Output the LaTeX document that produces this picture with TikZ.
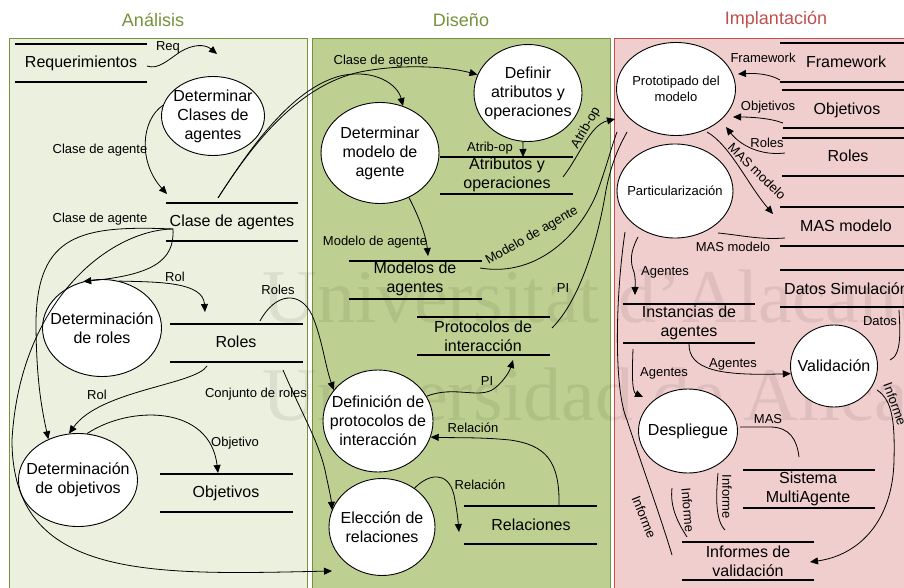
\documentclass[tikz,border=0pt]{standalone}
\usepackage{fontspec}
\setmainfont{Liberation Sans}
\newfontfamily\wmfont{Liberation Serif}
\usetikzlibrary{shapes.geometric,arrows.meta}

\definecolor{anaFill}{RGB}{235,241,222}
\definecolor{disFill}{RGB}{190,208,145}
\definecolor{impFill}{RGB}{240,206,205}
\definecolor{greenLine}{RGB}{118,146,60}
\definecolor{redLine}{RGB}{192,80,77}

\begin{document}
\begin{tikzpicture}[x=1pt,y=-1pt,
  proc/.style={ellipse, draw=black, line width=0.9pt, fill=white, inner sep=0pt},
  ptext/.style={align=center, inner sep=0pt, font=\fontsize{16}{19}\selectfont},
  ptextsm/.style={align=center, inner sep=0pt, font=\fontsize{13}{16}\selectfont},
  storetxt/.style={align=center, inner sep=0pt, font=\fontsize{16}{19}\selectfont},
  storeline/.style={line width=1.3pt},
  lbl/.style={inner sep=0pt, font=\fontsize{13}{15}\selectfont},
  flow/.style={line width=0.8pt, -{Triangle[length=8pt,width=7pt]}},
  plainflow/.style={line width=0.8pt},
  head/.style={inner sep=0pt, font=\fontsize{18}{20}\selectfont},
  wm/.style={inner sep=0pt, anchor=base west, text=black, opacity=0.07,
    font=\wmfont\fontsize{76}{76}\selectfont}
]
\useasboundingbox (0,0) rectangle (904,588);
\fill[white] (0,0) rectangle (904,588);

% ---------- phase panels ----------
\draw[fill=anaFill, draw=greenLine, line width=0.8pt] (9.5,600) -- (9.5,38) -- (307,38) -- (307,600);
\draw[fill=disFill, draw=greenLine, line width=0.8pt] (312,600) -- (312,38) -- (610,38) -- (610,600);
\draw[fill=impFill, draw=redLine, line width=0.8pt] (614,600) -- (614,38) -- (920,38) -- (920,600);

\node[head, text=greenLine] (hA) at (153,20) {Análisis};
\node[head, text=greenLine] (hD) at (461,20) {Diseño};
\node[head, text=redLine] (hI) at (776,20) {Implantación};

% ---------- watermark ----------
\node[wm] (wm1) at (262,322) {Universitat d’Alacant};
\node[wm] (wm2) at (262,420) {Universidad de Alicante};

% ---------- data stores ----------
% Analisis
\node[storetxt] (sReq) at (81,63) {Requerimientos};
\draw[storeline] (15,44) -- (147,44) (15,82) -- (147,82);
\node[storetxt] (sClase) at (232,222) {Clase de agentes};
\draw[storeline] (166,203) -- (298,203) (166,241) -- (298,241);
\node[storetxt] (sRoles) at (236,342) {Roles};
\draw[storeline] (170,324) -- (303,324) (170,362) -- (303,362);
\node[storetxt] (sObj) at (226,493) {Objetivos};
\draw[storeline] (160,474) -- (293,474) (160,512) -- (293,512);
% Diseno
\node[storetxt] (sAtr) at (507,175) {Atributos y\\operaciones};
\draw[storeline] (440,157) -- (573,157) (440,194) -- (573,194);
\node[storetxt] (sMod) at (415,279) {Modelos de\\agentes};
\draw[storeline] (349,261) -- (482,261) (349,299) -- (482,299);
\node[storetxt] (sProt) at (483,336) {Protocolos de\\interacción};
\draw[storeline] (417,317) -- (550,317) (417,355) -- (550,355);
\node[storetxt] (sRel) at (531,525) {Relaciones};
\draw[storeline] (464,506) -- (597,506) (464,544) -- (597,544);
% Implantacion
\node[storetxt] (sFw) at (846,62) {Framework};
\draw[storeline] (780,43) -- (904,43) (780,82) -- (904,82);
\node[storetxt] (sObj2) at (847,110) {Objetivos};
\draw[storeline] (782,90) -- (904,90) (783,128) -- (904,128);
\node[storetxt] (sRol2) at (848,156) {Roles};
\draw[storeline] (782,138) -- (904,138) (782,176) -- (904,176);
\node[storetxt] (sMas) at (846,226) {MAS modelo};
\draw[storeline] (780,207) -- (904,207) (780,246) -- (904,246);
\node[storetxt, anchor=west] (sDat) at (784,289) {Datos Simulación};
\draw[storeline] (780,270) -- (904,270) (780,307) -- (904,307);
\node[storetxt] (sInst) at (689,323) {Instancias de\\agentes};
\draw[storeline] (623,304) -- (755,304) (623,343) -- (755,343);
\node[storetxt] (sSma) at (808,489) {Sistema\\MultiAgente};
\draw[storeline] (743,470) -- (875,470) (743,508) -- (875,508);
\node[storetxt] (sInf) at (748,561) {Informes de\\validación};
\draw[storeline] (682,542) -- (814,542) (682,580) -- (814,580);

% ---------- processes ----------
\node[proc, minimum width=103pt, minimum height=79pt,
  label={[ptext]center:{Determinar\\Clases de\\agentes}}] (dca) at (213,116) {};
\node[proc, minimum width=119pt, minimum height=97pt,
  label={[ptext]center:{Determinación\\de roles}}] (drol) at (102,328) {};
\node[proc, minimum width=119pt, minimum height=93pt,
  label={[ptext]center:{Determinación\\de objetivos}}] (dobj) at (78,480) {};
\node[proc, minimum width=108pt, minimum height=97pt,
  label={[ptext]center:{Definir\\atributos y\\operaciones}}] (dattr) at (528,93) {};
\node[proc, minimum width=118pt, minimum height=101pt,
  label={[ptext]center:{Determinar\\modelo de\\agente}}] (dmod) at (380,153) {};
\node[proc, minimum width=110pt, minimum height=102pt,
  label={[ptext]center:{Definición de\\protocolos de\\interacción}}] (dpi) at (378,421) {};
\node[proc, minimum width=106pt, minimum height=97pt,
  label={[ptext]center:{Elección de\\relaciones}}] (erel) at (382,527) {};
\node[proc, minimum width=119pt, minimum height=93pt,
  label={[ptextsm]center:{Prototipado del\\modelo}}] (proto) at (676,89) {};
\node[proc, minimum width=116pt, minimum height=94pt,
  label={[ptextsm]center:{Particularización}}] (part) at (675,191) {};
\node[proc, minimum width=87pt, minimum height=82pt,
  label={[ptext]center:{Validación}}] (valid) at (834,366) {};
\node[proc, minimum width=99pt, minimum height=84pt,
  label={[ptext]center:{Despliegue}}] (desp) at (688,431) {};

% ---------- connector end points ----------
\coordinate (reqOut) at (147,66);
\coordinate (reqIn) at (217,54);
\coordinate (claseIn) at (167,194);
\coordinate (claseTop) at (218,198);
\coordinate (claseOut) at (173,229);
\coordinate (relIn) at (332,571);
\coordinate (rolStIn) at (205,312);
\coordinate (rolesTop) at (260,321);
\coordinate (rolesLow) at (207,366);
\coordinate (rolesSet) at (283,370);
\coordinate (objIn) at (218,473);
\coordinate (atrIn) at (523,157);
\coordinate (atrOut) at (563,177);
\coordinate (modIn) at (428,256);
\coordinate (modOut) at (480,268);
\coordinate (protOut) at (552,328);
\coordinate (protIn) at (513,360);
\coordinate (relOut) at (559,506);
\coordinate (relStIn) at (459,532);
\coordinate (protoA) at (615,119);
\coordinate (protoB) at (617,132);
\coordinate (protoC) at (627,132);
\coordinate (fwOut) at (780,80);
\coordinate (fwIn) at (738,74);
\coordinate (objOut) at (783,123);
\coordinate (objIn2) at (733,117);
\coordinate (rolOut2) at (785,153);
\coordinate (rolIn2) at (726,127);
\coordinate (masOut) at (707,132);
\coordinate (masIn) at (773,214);
\coordinate (masOut2) at (785,238);
\coordinate (masIn2) at (718,233);
\coordinate (agOut) at (638,237);
\coordinate (agIn) at (635,295);
\coordinate (instOut) at (689,343);
\coordinate (instOut2) at (633,349);
\coordinate (despIn) at (643,397);
\coordinate (datOut) at (899,310);
\coordinate (datIn) at (890,360);
\coordinate (valOut) at (877,390);
\coordinate (infIn) at (810,562);
\coordinate (despOut) at (740,427);
\coordinate (smaIn) at (799,457);
\coordinate (despLow) at (718,473);
\coordinate (infA) at (725,530);
\coordinate (infB0) at (672,488);
\coordinate (infB) at (687,537);
\coordinate (partOut) at (625,232);
\coordinate (infC) at (672,555);

% ---------- Analisis connectors ----------
\draw[flow] (reqOut) .. controls (158,70) and (168,60) .. (180,52)
  .. controls (193,44) and (205,44) .. (reqIn);
\node[lbl] (lReq) at (168,47) {Req};

\draw[flow] (dca.168) .. controls (141,120) and (138,162) .. (claseIn);
\node[lbl] (lCl1) at (100,150) {Clase de agente};

\draw[flow] (claseTop) .. controls (255,140) and (300,85) .. (360,72)
  .. controls (400,64) and (445,66) .. (dattr.160);
\draw[flow] (claseTop) .. controls (255,140) and (295,88) .. (340,76)
  .. controls (375,68) and (398,85) .. (dmod.64);
\node[lbl] (lCl2) at (381,61) {Clase de agente};

\draw[flow] (claseOut) .. controls (175,262) and (150,275) .. (drol.112);
\draw[flow] (claseOut) .. controls (80,225) and (38,235) .. (36,320)
  .. controls (36,380) and (42,410) .. (dobj.126);
\draw[flow] (claseOut) .. controls (110,230) and (20,300) .. (12,440)
  .. controls (12,580) and (150,575) .. (relIn);
\node[lbl] (lCl3) at (100,219) {Clase de agente};

\draw[flow] (drol.70) .. controls (160,282) and (203,282) .. (rolStIn);
\node[lbl] (lRol1) at (175,277) {Rol};

\draw[flow] (rolesTop) .. controls (275,293) and (300,290) .. (312,315)
  .. controls (322,338) and (325,365) .. (dpi.145);
\node[lbl] (lRoles) at (278,290) {Roles};

\draw[flow] (rolesLow) .. controls (195,385) and (100,390) .. (dobj.101);
\node[lbl] (lRol2) at (97,395) {Rol};

\draw[flow] (rolesSet) .. controls (300,410) and (318,440) .. (325,470)
  .. controls (328,485) and (331,497) .. (erel.161);
\node[lbl] (lConj) at (256,394) {Conjunto de roles};

\draw[flow] (dobj.79) .. controls (130,405) and (210,405) .. (objIn);
\node[lbl] (lObj) at (235,443) {Objetivo};

% ---------- Diseno connectors ----------
\draw[flow] (dattr.-96) -- (atrIn);
\node[lbl] (lAtr1) at (490,148) {Atrib-op};

\draw[flow] (dmod.-57) .. controls (418,215) and (426,235) .. (modIn);
\node[lbl] (lMod1) at (375,242) {Modelo de agente};

\draw[flow] (atrOut) .. controls (580,155) and (590,125) .. (protoA);
\node[lbl, rotate=60] (lAtr2) at (586,128) {Atrib-op};

\draw[plainflow] (modOut) .. controls (540,278) and (583,230) .. (598,190)
  .. controls (607,165) and (612,145) .. (protoB);
\node[lbl, rotate=30] (lMod2) at (532,236) {Modelo de agente};

\draw[plainflow] (protOut) .. controls (580,300) and (598,240) .. (606,190)
  .. controls (612,160) and (620,145) .. (protoC);
\node[lbl] (lPI1) at (563,288) {PI};

\draw[flow] (dpi.27) .. controls (455,385) and (480,400) .. (495,388)
  .. controls (505,380) and (510,370) .. (protIn);
\node[lbl] (lPI2) at (487,381) {PI};

\draw[flow] (relOut) .. controls (560,460) and (545,445) .. (510,440)
  .. controls (480,437) and (455,438) .. (dpi.-17);
\node[lbl] (lRel1) at (473,428) {Relación};

\draw[flow] (erel.50) .. controls (428,474) and (448,470) .. (454,495)
  .. controls (457,510) and (458,520) .. (relStIn);
\node[lbl] (lRel2) at (480,485) {Relación};

% ---------- Implantacion connectors ----------
\draw[flow] (fwOut) .. controls (770,74) and (755,73) .. (fwIn);
\node[lbl] (lFw) at (763,58) {Framework};

\draw[flow] (objOut) .. controls (770,118) and (750,117) .. (objIn2);
\node[lbl] (lObj2) at (768,107) {Objetivos};

\draw[flow] (rolOut2) .. controls (760,156) and (740,145) .. (rolIn2);
\node[lbl] (lRol3) at (767,143) {Roles};

\draw[flow] (masOut) .. controls (730,145) and (748,185) .. (masIn);
\node[lbl, rotate=-44] (lMas1) at (757,171) {MAS modelo};

\draw[plainflow] (masOut2) .. controls (760,240) and (740,235) .. (masIn2);
\node[lbl] (lMas2) at (733,247) {MAS modelo};

\draw[flow] (agOut) .. controls (630,252) and (630,262) .. (634,272)
  .. controls (636,280) and (635,288) .. (agIn);
\node[lbl] (lAg1) at (665,272) {Agentes};

\draw[flow] (instOut) .. controls (688,370) and (720,376) .. (valid.190);
\node[lbl] (lAg2) at (733,364) {Agentes};

\draw[flow] (instOut2) .. controls (632,375) and (632,392) .. (despIn);
\node[lbl] (lAg3) at (664,373) {Agentes};

\draw[plainflow] (datOut) .. controls (900,330) and (902,355) .. (datIn);
\node[lbl] (lDat) at (880,321) {Datos};

\draw[flow] (valOut) .. controls (892,400) and (895,420) .. (894,460)
  .. controls (893,520) and (860,555) .. (infIn);
\node[lbl, rotate=-70] (lInf1) at (895,404) {Informe};

\draw[plainflow] (despOut) -- (770,427) .. controls (790,427) and (797,440) .. (smaIn);
\node[lbl] (lMas3) at (768,419) {MAS};

\draw[plainflow] (despLow) .. controls (716,495) and (715,520) .. (infA);
\node[lbl, rotate=-90] (lInf2) at (727,497) {Informe};

\draw[plainflow] (infB0) .. controls (670,505) and (676,520) .. (infB);
\node[lbl, rotate=-85] (lInf3) at (688,510) {Informe};

\draw[plainflow] (partOut) .. controls (615,300) and (614,390) .. (627,420)
  .. controls (640,460) and (660,515) .. (infC);
\node[lbl, rotate=-68] (lInf4) at (644,517) {Informe};

\end{tikzpicture}
\end{document}
